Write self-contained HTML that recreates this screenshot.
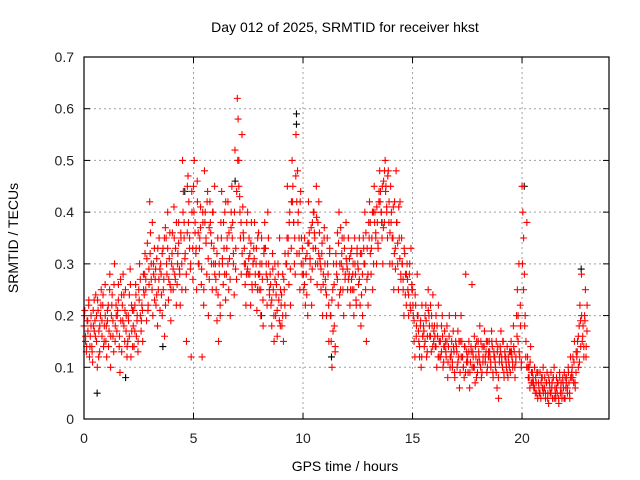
<!DOCTYPE html>
<html><head><meta charset="utf-8"><style>
body{margin:0;background:#fff;}
svg{display:block;font-family:"Liberation Sans",sans-serif;}
</style></head><body>
<svg id="chart" width="640" height="480">
<text x="345" y="32" font-size="14" text-anchor="middle">Day 012 of 2025, SRMTID for receiver hkst</text>
<text x="345" y="471" font-size="14" text-anchor="middle">GPS time / hours</text>
<text transform="translate(18,238) rotate(-90)" font-size="14" text-anchor="middle">SRMTID / TECUs</text>
<g id="grid"></g><g id="ticks"></g><g id="marks"></g>
<rect x="84" y="57" width="525" height="362" fill="none" stroke="#000" stroke-width="1.2"/>
</svg>
<script>
const binStarts=[0,0.25,0.5,0.75,1,1.25,1.5,1.75,2,2.25,2.5,2.75,3,3.25,3.5,3.75,4,4.25,4.5,4.75,5,5.25,5.5,5.75,6,6.25,6.5,6.75,7,7.25,7.5,7.75,8,8.25,8.5,8.75,9,9.25,9.5,9.75,10,10.25,10.5,10.75,11,11.25,11.5,11.75,12,12.25,12.5,12.75,13,13.25,13.5,13.75,14,14.25,14.5,14.75,15,15.25,15.5,15.75,16,16.25,16.5,16.75,17,17.25,17.5,17.75,18,18.25,18.5,18.75,19,19.25,19.5,19.75,20,20.25,20.5,20.75,21,21.25,21.5,21.75,22,22.25,22.5,22.75];
const binValues=[
[.18,.21,.15,.13,.19,.17,.22],[.12,.16,.2,.14,.11,.18,.23],[.19,.24,.15,.1,.21,.17,.13],[.2,.25,.16,.22,.14,.18,.26],
[.15,.12,.19,.22,.17,.28,.1],[.2,.24,.16,.13,.3,.18,.22],[.17,.21,.26,.14,.09,.19,.24],[.22,.28,.18,.15,.25,.2,.12],
[.15,.19,.24,.29,.12,.17,.21],[.18,.14,.22,.26,.16,.2,.13],[.25,.3,.2,.17,.22,.15,.28],[.24,.32,.27,.19,.34,.22,.29],
[.42,.36,.3,.25,.2,.28,.33],[.27,.22,.31,.18,.25,.35,.29],[.3,.24,.2,.33,.27,.16,.37],[.35,.28,.4,.23,.31,.26,.19],
[.3,.36,.25,.41,.28,.33,.22],[.26,.32,.38,.29,.22,.35,.3],[.5,.44,.38,.31,.25,.15,.36],[.47,.42,.35,.29,.12,.4,.33],
[.45,.5,.38,.32,.25,.42,.36],[.3,.35,.41,.26,.12,.38,.22],[.48,.4,.34,.28,.44,.2,.37],[.42,.36,.3,.25,.4,.33,.45],
[.3,.25,.19,.35,.15,.28,.22],[.38,.44,.3,.26,.33,.4,.23],[.28,.35,.42,.25,.31,.2,.37],[.45,.38,.3,.24,.52,.33,.27],
[.62,.58,.5,.43,.35,.28,.55],[.41,.35,.3,.26,.22,.38,.29],[.28,.35,.32,.22,.38,.25,.3],[.33,.38,.26,.3,.21,.35,.28],
[.25,.3,.2,.35,.27,.18,.32],[.38,.33,.28,.22,.4,.3,.25],[.28,.22,.18,.32,.25,.15,.3],[.2,.26,.16,.3,.23,.35,.18],
[.22,.18,.28,.15,.25,.32,.2],[.3,.45,.35,.26,.4,.22,.33],[.5,.45,.38,.3,.28,.55,.42],[.48,.4,.32,.25,.44,.35,.28],
[.3,.25,.35,.22,.28,.32,.2],[.42,.36,.3,.27,.22,.38,.33],[.4,.35,.3,.45,.26,.38,.32],[.36,.3,.25,.32,.2,.28,.35],
[.3,.25,.2,.35,.28,.15,.32],[.2,.15,.1,.25,.3,.18,.13],[.32,.28,.36,.22,.4,.3,.25],[.3,.35,.25,.2,.33,.28,.38],
[.3,.25,.35,.28,.22,.32,.27],[.25,.3,.2,.35,.28,.22,.32],[.3,.26,.35,.22,.18,.32,.28],[.35,.3,.4,.25,.15,.33,.28],
[.38,.42,.32,.28,.35,.25,.4],[.45,.4,.35,.3,.38,.33,.42],[.48,.44,.4,.35,.3,.46,.38],[.5,.45,.4,.35,.48,.42,.3],
[.45,.4,.3,.35,.25,.42,.33],[.48,.38,.3,.25,.35,.42,.28],[.35,.3,.25,.2,.32,.28,.22],[.3,.25,.2,.28,.22,.33,.26],
[.25,.2,.15,.12,.22,.18,.28],[.2,.15,.12,.18,.1,.22,.16],[.18,.14,.2,.22,.12,.16,.25],[.2,.16,.22,.13,.18,.24,.15],
[.18,.14,.2,.1,.16,.22,.12],[.15,.12,.18,.2,.1,.14,.17],[.15,.12,.18,.08,.14,.2,.1],[.12,.15,.1,.17,.13,.08,.2],
[.14,.1,.17,.12,.06,.15,.2],[.15,.12,.1,.08,.14,.28,.11],[.12,.09,.15,.06,.11,.13,.26],[.13,.1,.16,.07,.12,.15,.09],
[.15,.12,.18,.1,.08,.14,.11],[.14,.17,.11,.13,.09,.15,.12],[.15,.12,.1,.17,.14,.08,.13],[.12,.1,.15,.06,.14,.04,.11],
[.14,.17,.12,.1,.15,.08,.13],[.12,.1,.14,.08,.11,.13,.09],[.15,.12,.1,.18,.13,.08,.11],[.2,.25,.15,.3,.12,.18,.1],
[.45,.4,.35,.28,.2,.15,.1],[.12,.08,.1,.06,.14,.09,.07],[.08,.06,.1,.05,.07,.09,.04],[.07,.05,.09,.04,.08,.06,.1],
[.06,.08,.04,.07,.09,.05,.03],[.07,.05,.09,.06,.04,.08,.1],[.06,.04,.08,.05,.07,.03,.09],[.05,.07,.04,.08,.06,.09,.04],
[.06,.08,.05,.1,.07,.04,.12],[.08,.1,.12,.07,.15,.06,.09],[.12,.15,.1,.18,.22,.14,.28],[.15,.18,.12,.2,.25,.14,.17]];
const binValuesB=[
[.2,.16,.14,.19,.23],[.14,.18,.13,.21,.17],[.16,.2,.23,.12,.18],[.22,.19,.24,.15,.2],
[.18,.21,.14,.25,.16],[.22,.19,.26,.15,.2],[.2,.23,.16,.27,.13],[.19,.24,.21,.17,.14],
[.2,.16,.26,.22,.14],[.21,.17,.24,.19,.15],[.23,.27,.19,.21,.25],[.28,.25,.31,.21,.26],
[.32,.27,.38,.3,.23],[.29,.24,.33,.27,.21],[.28,.32,.25,.35,.22],[.3,.33,.27,.36,.25],
[.32,.29,.35,.27,.38],[.3,.34,.28,.36,.25],[.4,.35,.32,.28,.45],[.38,.33,.3,.44,.27],
[.4,.36,.33,.46,.3],[.33,.37,.29,.4,.25],[.38,.35,.42,.31,.27],[.38,.34,.4,.3,.28],
[.27,.32,.24,.3,.2],[.35,.31,.38,.28,.42],[.33,.3,.36,.27,.4],[.35,.32,.4,.29,.44],
[.5,.45,.4,.38,.32],[.36,.33,.3,.28,.4],[.31,.28,.34,.26,.3],[.31,.28,.33,.25,.36],
[.28,.25,.3,.23,.33],[.33,.3,.27,.35,.24],[.26,.23,.29,.2,.27],[.24,.21,.28,.19,.25],
[.24,.2,.27,.22,.3],[.35,.32,.38,.29,.42],[.42,.38,.35,.47,.32],[.38,.35,.42,.3,.33],
[.28,.26,.31,.24,.34],[.34,.31,.37,.29,.4],[.36,.33,.39,.3,.42],[.31,.29,.34,.26,.37],
[.27,.24,.3,.22,.33],[.2,.23,.17,.26,.14],[.3,.27,.34,.24,.37],[.32,.29,.35,.27,.31],
[.29,.27,.31,.25,.33],[.28,.25,.3,.23,.33],[.29,.27,.32,.24,.2],[.33,.3,.36,.27,.22],
[.35,.38,.33,.4,.3],[.38,.36,.41,.34,.44],[.42,.4,.45,.37,.48],[.44,.41,.47,.38,.36],
[.38,.35,.41,.32,.29],[.38,.34,.41,.31,.27],[.3,.27,.33,.24,.28],[.27,.24,.3,.21,.25],
[.22,.19,.24,.16,.2],[.17,.14,.19,.12,.16],[.17,.15,.19,.13,.21],[.18,.16,.2,.14,.17],
[.16,.14,.18,.12,.15],[.15,.13,.16,.11,.14],[.13,.15,.11,.16,.12],[.13,.11,.14,.09,.15],
[.13,.11,.15,.09,.12],[.12,.1,.14,.09,.13],[.11,.13,.09,.14,.1],[.12,.1,.14,.08,.11],
[.13,.11,.15,.09,.12],[.14,.12,.15,.1,.13],[.13,.11,.15,.09,.12],[.11,.09,.13,.08,.12],
[.13,.11,.15,.09,.12],[.11,.09,.12,.1,.13],[.13,.11,.14,.1,.12],[.16,.2,.13,.22,.11],
[.3,.25,.18,.12,.38],[.1,.08,.11,.07,.09],[.07,.06,.08,.05,.09],[.06,.05,.07,.08,.05],
[.06,.05,.07,.04,.08],[.06,.05,.07,.08,.04],[.05,.06,.07,.04,.08],[.06,.05,.07,.04,.08],
[.07,.06,.09,.05,.08],[.09,.08,.11,.07,.13],[.13,.16,.11,.19,.2],[.16,.14,.19,.12,.22]];
const blackTimes=[0.6,1.9,3.6,6.9,9.7,9.7,11.3,13.6,20.1,22.7,4.6,8.1];
const blackValues=[0.05,0.08,0.14,0.46,0.59,0.57,0.12,0.38,0.45,0.29,0.44,0.2];
const xTicks=[0,5,10,15,20];
const yTicks=[0,0.1,0.2,0.3,0.4,0.5,0.6,0.7];
const yTickLabels=["0","0.1","0.2","0.3","0.4","0.5","0.6","0.7"];

const NS="http://www.w3.org/2000/svg";
const X0=84,X1=609,Y0=419,Y1=57,XMAX=23.97,YMAX=0.7;
function sx(h){return X0+h/XMAX*(X1-X0);}
function sy(v){return Y0-v/YMAX*(Y0-Y1);}
function mk(tag,attrs,parent){const e=document.createElementNS(NS,tag);for(const k in attrs)e.setAttribute(k,attrs[k]);parent.appendChild(e);return e;}
const grid=document.getElementById('grid'),ticks=document.getElementById('ticks'),marks=document.getElementById('marks');
xTicks.forEach(t=>{const x=sx(t);
 if(t>0){const g=mk('line',{x1:x,x2:x,y1:Y0,y2:Y1,stroke:'#a0a0a0','stroke-dasharray':'2,3'},grid);
 
 }
 mk('line',{x1:x,x2:x,y1:Y0,y2:Y0-6,stroke:'#000'},ticks);mk('line',{x1:x,x2:x,y1:Y1,y2:Y1+6,stroke:'#000'},ticks);
 const l=mk('text',{x:x,y:Y0+24,'font-size':14,'text-anchor':'middle',fill:'#222'},ticks);l.textContent=t;
 
 });
yTicks.forEach((t,i)=>{const y=sy(t);
 if(t>0&&t<0.7){const g=mk('line',{x1:X0,x2:X1,y1:y,y2:y,stroke:'#a0a0a0','stroke-dasharray':'2,3'},grid);
 
 }
 mk('line',{x1:X0,x2:X0+6,y1:y,y2:y,stroke:'#000'},ticks);mk('line',{x1:X1,x2:X1-6,y1:y,y2:y,stroke:'#000'},ticks);
 const l=mk('text',{x:X0-10,y:y+5,'font-size':14,'text-anchor':'end',fill:'#222'},ticks);l.textContent=yTickLabels[i];
 
 });
function plus(x,y,c){const p=mk('path',{d:`M${x-3.5},${y}h7M${x},${y-3.5}v7`,stroke:c,'stroke-width':1.1,fill:'none'},marks);
 
 }
blackTimes.forEach((t,i)=>plus(sx(t),sy(blackValues[i]),'#000'));
binStarts.forEach((b,i)=>{const vs=binValues[i];vs.forEach((v,j)=>plus(sx(b+j*0.25/vs.length),sy(v),'#ff0000'));});
binStarts.forEach((b,i)=>{const vs=binValuesB[i];vs.forEach((v,j)=>plus(sx(b+0.02+j*0.25/vs.length),sy(v),'#ff0000'));});
</script>
</body></html>
